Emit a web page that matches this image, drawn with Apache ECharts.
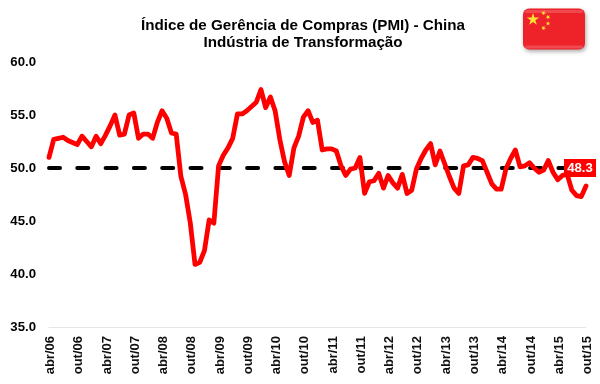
<!DOCTYPE html>
<html>
<head>
<meta charset="utf-8">
<style>html,body{margin:0;padding:0;background:#fff}#c{width:600px;height:384px}</style>
<script src="https://cdn.jsdelivr.net/npm/echarts@6/dist/echarts.min.js"></script>
</head>
<body>
<div id="c"></div>
<script>
const titleText = 'Índice de Gerência de Compras (PMI) - China\nIndústria de Transformação';
const monthNames = ['jan','fev','mar','abr','mai','jun','jul','ago','set','out','nov','dez'];
const categories = [];
for (let y = 6, m = 3; y < 15 || (y === 15 && m <= 9); m++) {
  if (m === 12) { m = 0; y++; }
  categories.push(monthNames[m] + '/' + String(y).padStart(2, '0'));
}
const pmi = [
  51.0,52.7,52.8,52.9,52.6,52.4,52.2,53.0,52.5,52.0,53.0,52.3,
  53.1,54.0,55.0,53.1,53.2,55.0,55.2,52.8,53.2,53.2,52.8,54.3,
  55.4,54.7,53.3,53.2,49.2,47.5,44.8,40.9,41.1,42.2,45.1,44.8,
  50.2,51.2,51.9,52.8,55.1,55.1,55.4,55.8,56.2,57.4,55.7,56.7,
  55.4,52.7,50.6,49.3,51.9,53.0,54.8,55.4,54.3,54.5,51.7,51.8,
  51.8,51.6,50.2,49.3,49.9,50.0,51.0,47.6,48.7,48.8,49.5,48.1,
  49.3,48.6,48.1,49.4,47.6,47.9,49.9,50.9,51.7,52.3,50.3,51.6,
  50.4,49.2,48.1,47.6,50.2,50.3,51.0,50.9,50.7,49.6,48.5,48.0,
  48.0,49.9,50.9,51.7,50.1,50.2,50.5,50.0,49.6,49.8,50.7,49.6,
  48.9,49.3,49.4,47.9,47.4,47.3,48.3
];
const referenceLevel = 50;
const yMin = 35, yMax = 60, yStep = 5;
const FONT = '"Liberation Sans", Arial, sans-serif';

function starPoints(cx, cy, r, rot) {
  const pts = [];
  for (let i = 0; i < 10; i++) {
    const rad = i % 2 ? r * 0.382 : r;
    const a = -Math.PI / 2 + rot + i * Math.PI / 5;
    pts.push([cx + rad * Math.cos(a), cy + rad * Math.sin(a)]);
  }
  return pts;
}
const star = (cx, cy, r, rot) => ({
  type: 'polygon', z: 12, shape: { points: starPoints(cx, cy, r, rot) },
  style: { fill: '#ffe135' }
});

const chart = echarts.init(document.getElementById('c'), null, { renderer: 'canvas' });
const lastIndex = pmi.length - 1;
chart.setOption({
  animation: false,
  backgroundColor: '#fff',
  title: {
    text: titleText, left: 298, top: 12, textAlign: 'center',
    textStyle: { fontFamily: FONT, fontWeight: 'bold', fontSize: 15.2, lineHeight: 17, color: '#000' }
  },
  grid: { left: 49, right: 14, top: 62, bottom: 57, containLabel: false },
  xAxis: {
    type: 'category', data: categories, boundaryGap: false,
    axisLine: { lineStyle: { color: '#e6e6e6', width: 1 } },
    axisTick: { show: false },
    axisLabel: {
      interval: 5, rotate: 90, margin: 9, color: '#111',
      fontFamily: FONT, fontWeight: 'bold', fontSize: 13,
      verticalAlign: 'top', lineHeight: 3
    }
  },
  yAxis: {
    type: 'value', min: yMin, max: yMax, interval: yStep,
    axisLine: { show: false }, axisTick: { show: false }, splitLine: { show: false },
    axisLabel: {
      margin: 13, color: '#000', fontFamily: FONT, fontWeight: 'bold', fontSize: 13.2,
      formatter: v => v.toFixed(1)
    }
  },
  series: [{
    type: 'line', data: pmi,
    symbol: 'none', showSymbol: false, z: 3,
    lineStyle: { color: '#ff0000', width: 4.8, cap: 'round', join: 'round' },
    markLine: {
      silent: true, symbol: 'none', z: 2, animation: false,
      label: { show: false },
      lineStyle: { color: '#000', width: 4, type: [11, 17.3], cap: 'round' },
      data: [{ yAxis: referenceLevel }]
    },
    markPoint: {
      silent: true, z: 6, animation: false,
      symbol: 'rect', symbolSize: [32, 18], symbolOffset: [-6, -18],
      itemStyle: { color: '#ff0000' },
      label: {
        show: true, position: 'inside', color: '#fff',
        fontFamily: FONT, fontWeight: 'bold', fontSize: 13.2,
        formatter: () => pmi[lastIndex].toFixed(1)
      },
      data: [{ coord: [lastIndex, pmi[lastIndex]] }]
    }
  }],
  graphic: [
    { type: 'rect', z: 10, shape: { x: 523, y: 8.5, width: 62, height: 41, r: 6 },
      style: { fill: '#ee2229', shadowBlur: 4, shadowColor: 'rgba(0,0,0,0.35)', shadowOffsetX: 1, shadowOffsetY: 2 } },
    { type: 'rect', z: 11, shape: { x: 525, y: 10, width: 58, height: 3, r: 2 },
      style: { fill: 'rgba(255,255,255,0.18)' } },
    { type: 'rect', z: 11, shape: { x: 525, y: 45.5, width: 58, height: 3, r: 2 },
      style: { fill: 'rgba(255,255,255,0.18)' } },
    star(533, 19.5, 6.5, 0),
    star(543.5, 13, 2.6, 0.4),
    star(548, 17, 2.6, 0.8),
    star(548, 23.5, 2.6, 0),
    star(543.5, 28, 2.6, 0.4)
  ]
});
</script>
</body>
</html>
